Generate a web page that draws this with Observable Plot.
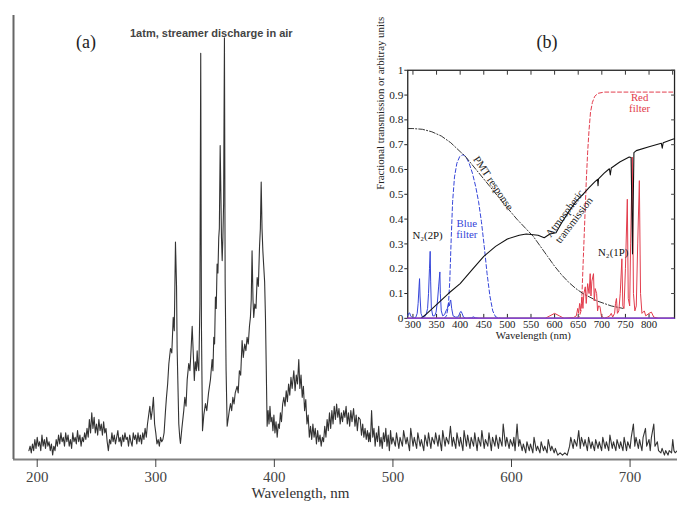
<!DOCTYPE html>
<html><head><meta charset="utf-8">
<script src="https://cdn.jsdelivr.net/npm/d3@7"></script>
<script src="https://cdn.jsdelivr.net/npm/@observablehq/plot@0.6"></script>
<style>
body{margin:0;background:#fff;}
#wrap{position:relative;width:677px;height:507px;overflow:hidden;background:#fff;}
#main{position:absolute;left:0;top:0;}
#inset{position:absolute;left:360px;top:55px;}
</style></head><body>
<div id="wrap"><div id="main"></div><div id="inset"></div></div>
<script>
// ---------- (a) streamer discharge spectrum: [wavelength nm, relative intensity %] ----------
const mainSpectrum = [
[193,2],[194,3],[195,1.5],[196,3.5],[197,2],[198,4.5],[199,2.5],[200,5],[201,3],[202,4],[203,2],[204,5.5],[205,3],[206,4.5],[207,2.5],[208,5],[209,3],[210,4],[211,2],[212,3.5],[213,1],[214,3],[215,2],[216,4.5],[217,3],[218,5.5],[219,3.5],[220,6],[221,4],[222,5],[223,3],[224,6],[225,4],[226,5.5],[227,3],[228,4.5],[229,2.5],[230,6],[231,4],[232,5],[233,3.5],[234,6.5],[235,4],[236,5.5],[237,3],[238,5],[239,4],[240,6],[241,4.5],[242,7],[243,5],[244,9],[245,6],[246,10.5],[247,7],[248,9.5],[249,6],[250,8],[251,5.5],[252,9],[253,6.5],[254,8],[255,5.5],[256,8.5],[257,6],[258,7],[259,4],[260,2],[261,4.5],[262,3.5],[263,6],[264,4],[265,5.5],[266,3.5],[267,5],[268,6.5],[269,4],[270,5],[271,3],[272,5.5],[273,4],[274,6],[275,4.5],[276,5],[277,3],[278,5.5],[279,4],[280,3],[281,6],[282,4.5],[283,5.5],[284,3.5],[285,6],[286,4],[287,5.5],[288,3.5],[289,6],[290,4.5],[291,7],[292,5],[293,8],[294,10],[295,12],[296,9],[297,11],[298,14],[299,8],[300,6],[301,3.5],[302,4.5],[303,3],[304,5],[305,4],[306,4.5],[307,6],
[308.2,11],[309,14],[310,17],[311,21.5],[312.4,25],[313.5,24],[314.7,32],[315.6,29],[316.6,49],[317.5,39],[318,25],[319.4,8],[320.2,5],[320.8,3.6],[322,7],[323.6,11],[324.5,14],[325.5,12],[326.5,18],[327.8,21.6],[328.8,20],[329.8,25],[330.7,30],[331.6,24],[332.5,17.8],[333.3,22],[334.2,20],[334.9,24.5],[335.6,21],[336.3,20],[337.2,35],[337.9,91.5],[338.5,30],[339.4,6.5],[340.5,10],[341.9,12.6],[343,11],[344.5,15],[346.1,18],[347.5,22.5],[348.2,20],[348.9,27.5],[349.6,26],[350.3,36.6],[351,34],[351.7,44],[352.4,42],[353.1,50],[353.6,52],[354.3,70.7],[354.9,60],[355.4,50],[356,44.8],[356.6,50],[357.2,57.6],[357.9,95],[358.5,40],[359.3,20],[360.2,7.5],[361,9],[362,11],[363,12.6],[364,11],[365,14],[366,12.5],[367,15],[368.6,16.5],[369.5,15],[370.5,20],[371.6,19],[372.8,26.8],[373.8,23],[375,26],[376,24.5],[377,27.5],[378,26],[379,30],[379.8,32],[380.5,36],[381.2,47],[382,36],[382.6,32],[383.5,35],[384.5,34],[385.5,41],[386.5,39],[387.5,48],[388.2,52],[388.9,62.5],[389.6,52],[390.3,47],[391,43.7],[391.8,40],[392.5,32],[393.2,20],[393.9,7.5],
[394.7,11],[395.5,8],[396.3,12],[397.1,8.5],[398,9.5],[398.8,6.5],[399.6,10],[400.5,6],[401.4,8.5],[402.4,5],[403.3,8],[404.2,7],[405.1,10.5],[406,8.5],[407,12.5],[408,14],[409,12],[410,15.5],[411,13],[412,17],[413,14.5],[414,18.5],[415,16],[416.4,20],[417.5,15.5],[418.5,19],[419.5,17],[420.6,22.5],[421.5,16],[422.5,19],[423.5,14],[424.5,16.5],[425.5,11],[426.5,13.5],[427.5,8],[428.5,10],[429.5,5],[430.5,7.5],[431.5,4.5],[432.5,8],[433.5,5],[434.5,7],[435.5,3.5],[436.5,6.5],[437.5,4],[438.5,5.5],[439.5,3],[440.5,5],[441.5,4],[442.5,7.5],[443.5,5],[444.5,9],[445.5,6.5],[446.5,10.5],[447.5,7],[448.5,11],[449.5,8],[450.5,12],[451.5,9],[452.5,12.5],[453.5,9.5],[454.5,11.5],[455.5,8],[456.5,10.5],[457.5,8.5],[458.5,11],[459.5,9.5],[460.5,12],[461.5,8],[462.5,10.5],[463.5,7.5],[464.5,11],[465.5,8.5],[466.8,11.5],[468,7.5],[469,10],[470,6.5],[471,9.5],[472.4,9],[473.5,5.5],[474.5,8],[475.5,5],[476.5,7],[477.5,4.5],[478.5,6.5],[479.5,4],
[480,6],[481,4],[482,11],[483,5],[484,7],[485,3],[486,6],[487,4],[488,7.5],[489,3],[490,5],[491,2.5],[492,6],[493,4],[494,7],[495,3],[496,5.5],[497,2],[498,6.5],[499,3.5],[500,5],[502,3],[503,6],[505,2.5],[506,5],[508,3],[509,6.5],[511,3.5],[512,5],[514,2],[515,7],[517,3],[518,5],[520,2.5],[521,6],[523,3],[524,4.5],[526,2],[527,5.5],[529,3],[530,6],[532,2.5],[533,5],[535,3.5],[536,6],[538,3],[539,5.5],[541,2],[542,6.5],[544,3],[545,5],[547,3.5],[548.5,7.5],[550,3],[551,5],[553,2.5],[554,6],[556,3],[557,5],[559,2],[560,6.5],[562,3],[563,5.5],[565,2.5],[566,5],[568,3],[569,6],[571,2],[572,5],[574,3],[575,6.5],[577,2.5],[578,4.5],[580,3],[581,6],[583,2],[584,5],[586,3],[587,5.5],[589,2.5],[590,5],[592,3],[593,8],[595,3],[596,5],[598,2.5],[599,4.5],[601,3],[602,5],[603,2],[604.7,8],[606,3],[607,4.5],[609,2],[610,3.5],[612,1.5],[613,4],[615,2],[616,3.5],[618,1.5],[619,5],[621,2],[622,3],[624,1.5],[625,4],[627,2],[628,3],[630,1.5],[631,4.5],[633,2],[634,3],[636,1.5],[637,2.5],[639,1],[641,1.5],[643,1],[645,1.5],[647,1],[649,3],[650,5],[652,2.5],[653,4.5],[655,3],[656.7,6.5],[658,2.5],[659,5],[661,3],[662,4.5],[664,2],[665,5],[667,2.5],[668,4],[670,2],[671,4.5],[673,2.5],[674,4],[676,2],[677,5],[679,2.5],[680,4],[682,2],[683,5.5],[685,2.5],[686,4],[688,2],[689,4.5],[691,2.5],[692,4],[694,2],[695,5],[697,2],[698,4],[700,2.5],[701,5],[702.8,8],[704,3],[705,5],[707,2.5],[708,4.5],[710,2],[711,5],[713,7],[714,3],[716,4.5],[717,2],[718,5],[720,8],[721,3],[723,4],[724,2],[726,1.5],[727,2.5],[729,1],[730,2],[732,1],[733,2],[735,1.5],[736,4.5],[737,2],[738,1.5],[740,2]
];
const mainTicks = [200, 300, 400, 500, 600, 700];

// ---------- (b) inset: [wavelength nm, fraction] ----------
const pmtResponse = [[289,0.765],[300,0.765],[320,0.762],[340,0.752],[360,0.735],[380,0.708],[400,0.672],[410,0.655],[425,0.62],[440,0.585],[455,0.55],[470,0.515],[485,0.48],[500,0.445],[520,0.4],[540,0.36],[555,0.33],[570,0.29],[585,0.25],[600,0.21],[615,0.175],[630,0.145],[645,0.12],[660,0.1],[675,0.085],[690,0.07],[705,0.06],[720,0.05],[735,0.044],[745,0.04]];
const atmTransmission = [[317,0],[330,0.02],[350,0.055],[375,0.1],[400,0.14],[425,0.195],[450,0.25],[475,0.29],[500,0.32],[525,0.335],[540,0.34],[550,0.338],[565,0.335],[578,0.325],[590,0.34],[603,0.345],[615,0.385],[630,0.43],[645,0.47],[660,0.5],[672,0.525],[685,0.55],[691,0.56],[692,0.535],[693,0.562],[705,0.585],[716,0.603],[718,0.578],[720,0.606],[738,0.63],[758,0.65],[762,0.648],[764,0.4],[765,0.26],[766,0.4],[768,0.668],[773,0.676],[800,0.692],[826,0.706],[828,0.686],[830,0.708],[850,0.722],[854,0.724]];
const blueFilter = [[366,0],[371,0.01],[375,0.05],[378,0.15],[381,0.32],[384,0.47],[388,0.57],[393,0.625],[399,0.652],[406,0.66],[412,0.652],[419,0.625],[426,0.585],[433,0.53],[439,0.47],[445,0.39],[451,0.29],[457,0.18],[463,0.09],[469,0.03],[475,0.006],[485,0]];
const redFilter = [[645,0],[652,0.005],[656,0.03],[658,0.1],[661,0.25],[664,0.4],[667,0.55],[670,0.67],[673,0.76],[676,0.83],[680,0.87],[685,0.895],[692,0.907],[705,0.912],[854,0.912]];
const n2SecondPositive = [[289,0.01],[291,0.02],[293,0.022],[295,0.01],[298,0.004],[302,0],[306,0.004],[309,0.02],[311,0.06],[313,0.13],[314,0.16],[315,0.09],[317,0.02],[320,0.005],[324,0.005],[328,0.015],[331,0.04],[333,0.1],[335,0.2],[336.5,0.27],[337.5,0.15],[339,0.04],[342,0.01],[346,0.01],[349,0.025],[352,0.07],[354.5,0.13],[357,0.187],[358,0.1],[360,0.03],[363,0.01],[367,0.015],[370,0.03],[373,0.04],[375,0.06],[377,0.05],[379,0.07],[380,0.074],[382,0.04],[385,0.01],[390,0.005],[395,0.005],[398,0.015],[400,0.025],[402,0.028],[404,0.02],[407,0.005],[412,0],[424,0.002],[428,0.006],[432,0.002],[440,0],[854,0]];
const n2FirstPositive = [[289,0],[580,0],[590,0.01],[600,0.02],[610,0.01],[620,0],[640,0.003],[646,0.01],[649,0.04],[651,0.02],[653,0.06],[655,0.03],[658,0.087],[660,0.04],[662,0.1],[665,0.127],[667,0.06],[670,0.14],[673,0.1],[675.4,0.18],[677,0.09],[679,0.15],[682.4,0.18],[684,0.07],[686,0.12],[689,0.1],[691,0.03],[693,0.05],[696,0.048],[699,0.01],[705,0],[712,0.005],[717,0.01],[720,0.02],[723,0.005],[727,0.02],[729,0.06],[731,0.08],[733,0.02],[736,0.03],[739,0.1],[742.5,0.24],[744.5,0.05],[747,0.04],[750,0.2],[754,0.48],[756,0.08],[759,0.05],[761,0.3],[764.5,0.65],[767,0.1],[770,0.03],[773,0.05],[776,0.3],[779.5,0.555],[782,0.1],[785,0.02],[790,0.03],[793,0.01],[800,0.02],[805,0.025],[810,0.005],[820,0],[854,0]];
const insetXTicks = [300,350,400,450,500,550,600,650,700,750,800,850];
const insetYTicks = [0,0.1,0.2,0.3,0.4,0.5,0.6,0.7,0.8,0.9,1];

const serif = "'Liberation Serif','Times New Roman',Times,serif";
const sans = "'Liberation Sans',Arial,Helvetica,sans-serif";

const main = Plot.plot({
  width: 677, height: 507,
  marginLeft: 13, marginRight: 0, marginTop: 15, marginBottom: 48,
  x: {domain: [180, 740]},
  y: {domain: [0, 100], axis: null},
  style: {fontFamily: serif, background: "transparent", overflow: "visible"},
  marks: [
    Plot.line(mainSpectrum, {stroke: "#333", strokeWidth: 1.1}),
    Plot.ruleY([0], {stroke: "#808080", strokeWidth: 2}),
    Plot.ruleX([180], {stroke: "#666", strokeWidth: 2}),
    Plot.axisX(mainTicks, {tickSize: 8, tickPadding: 4, fontSize: 15, color: "#444", label: null}),
    Plot.text(["Wavelength, nm"], {text: d => d, x: 422, frameAnchor: "bottom", dy: 38, fontSize: 15, fill: "#333"}),
    Plot.text(["(a)"], {text: d => d, frameAnchor: "top-left", dx: 62.5, dy: 19.5, fontSize: 18, fill: "#222"}),
    Plot.text(["(b)"], {text: d => d, frameAnchor: "top-left", dx: 523, dy: 19.5, fontSize: 18, fill: "#222"}),
    Plot.text(["1atm, streamer discharge in air"], {text: d => d, frameAnchor: "top-left", dx: 116.5, dy: 14, textAnchor: "start", fontSize: 11, fontWeight: "bold", fontFamily: sans, fill: "#444"})
  ]
});
document.getElementById("main").appendChild(main);

const blue = "#3343d8", red = "#e23a4a";
const inset = Plot.plot({
  width: 322, height: 300,
  marginLeft: 48, marginRight: 3, marginTop: 15, marginBottom: 33,
  x: {domain: [289, 854]},
  y: {domain: [0, 1]},
  style: {fontFamily: serif, background: "#fff", overflow: "visible"},
  marks: [
    Plot.frame({stroke: "#222", strokeWidth: 1.3}),
    Plot.axisY(insetYTicks, {tickSize: 3, tickPadding: 1.5, fontSize: 11.5, color: "#222", tickFormat: d => String(d), label: null}),
    Plot.axisY(insetYTicks, {anchor: "right", tickSize: -4, tickFormat: () => "", color: "#444", label: null}),
    Plot.axisX(insetXTicks.slice(0, 11), {tickSize: -4, tickPadding: 6, fontSize: 11, color: "#222", label: null}),
    Plot.axisX(insetXTicks, {anchor: "top", tickSize: -4, tickFormat: () => "", color: "#333", label: null}),
    Plot.line(redFilter, {stroke: red, strokeWidth: 1, strokeDasharray: "4,2.5"}),
    Plot.line(blueFilter, {stroke: blue, strokeWidth: 1, strokeDasharray: "4,2.5"}),
    Plot.line(pmtResponse, {stroke: "#333", strokeWidth: 1, strokeDasharray: "6,2,1.2,2"}),
    Plot.line(n2FirstPositive, {stroke: red, strokeWidth: 1}),
    Plot.line(n2SecondPositive, {stroke: blue, strokeWidth: 1}),
    Plot.line(atmTransmission, {stroke: "#111", strokeWidth: 1.1}),
    Plot.ruleY([0], {stroke: "#8844cc", strokeWidth: 1.5}),
    Plot.text(["N₂(2P)"], {text: d => d, x: 331, y: 0.333, fontSize: 11, fill: "#111"}),
    Plot.text(["Blue\nfilter"], {text: d => d, x: 414, y: 0.36, fontSize: 11, fill: blue, lineHeight: 1.05}),
    Plot.text(["PMT response"], {text: d => d, x: 470, y: 0.545, rotate: 56, fontSize: 11, fill: "#222"}),
    Plot.text(["Atmospheric\ntransmission"], {text: d => d, x: 631, y: 0.41, rotate: -53, fontSize: 11, fill: "#222", lineHeight: 1.05}),
    Plot.text(["N₂(1P)"], {text: d => d, x: 724, y: 0.266, fontSize: 11, fill: "#111"}),
    Plot.text(["Red\nfilter"], {text: d => d, x: 780, y: 0.868, fontSize: 11, fill: red, lineHeight: 1.05}),
    Plot.text(["Wavelength (nm)"], {text: d => d, x: 555, frameAnchor: "bottom", dy: 21, fontSize: 11, fill: "#222"}),
    Plot.text(["Fractional transmission or arbitray units"], {text: d => d, frameAnchor: "left", dx: -28, dy: -4.5, rotate: -90, fontSize: 11, fill: "#222"})
  ]
});
document.getElementById("inset").appendChild(inset);
</script>
</body></html>
